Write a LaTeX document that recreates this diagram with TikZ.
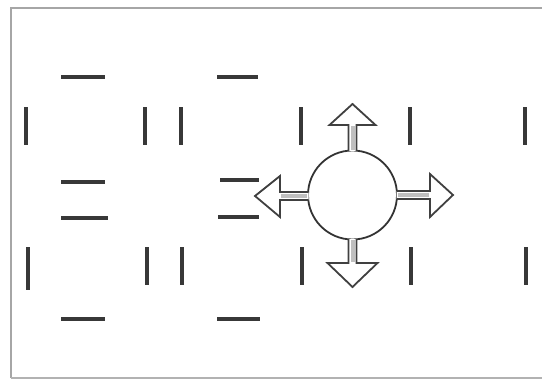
\documentclass[tikz,border=0pt]{standalone}
\begin{document}
\begin{tikzpicture}[x=1pt,y=-1pt]
\tikzset{
  dashmk/.style={line width=3.5pt,draw=black!78},
  barmk/.style={line width=3.5pt,draw=black!78},
  framemk/.style={line width=2pt,draw=black!35},
  blockarrow/.style={line width=1.8pt,draw=black!75,fill=white,line join=miter},
  shaftfill/.style={line width=4pt,draw=black!25},
  ring/.style={circle,draw=black!80,line width=1.8pt,minimum size=89pt,inner sep=0pt}}
\useasboundingbox (0,0) rectangle (542,380);
% frame
\draw[framemk] (10,8) -- (542,8);
\draw[framemk] (11,8) -- (11,378);
\draw[line width=1.2pt,draw=black!30] (11,378) -- (542,378);
% horizontal dashes
\draw[dashmk] (61,77) -- (105,77);
\draw[dashmk] (217,77) -- (258,77);
\draw[dashmk] (61,182) -- (105,182);
\draw[dashmk] (61,218) -- (108,218);
\draw[dashmk] (220,180) -- (259,180);
\draw[dashmk] (218,217) -- (259,217);
\draw[dashmk] (61,319) -- (105,319);
\draw[dashmk] (217,319) -- (260,319);
% vertical bars row 1
\foreach \x in {26,145,181,301,410,525} {\draw[barmk] (\x,107) -- (\x,145);}
% vertical bars row 2
\draw[barmk] (28,247) -- (28,290);
\foreach \x in {147,182,302,411,526} {\draw[barmk] (\x,247) -- (\x,285);}
% circle
\node[ring] (c) at (352.5,195) {};
% arrows
\draw[blockarrow] (348.5,151) -- (348.5,125) -- (329.5,125) -- (352.5,104) -- (375.5,125) -- (356.5,125) -- (356.5,151);
\draw[shaftfill] (c.north) -- (352.5,126);
\draw[blockarrow] (348.5,239) -- (348.5,263) -- (327.5,263) -- (352.5,287) -- (377.5,263) -- (356.5,263) -- (356.5,239);
\draw[shaftfill] (c.south) -- (352.5,262);
\draw[blockarrow] (396.5,191) -- (430,191) -- (430,174) -- (453,195) -- (430,217) -- (430,199) -- (396.5,199);
\draw[shaftfill] (c.east) -- (429,195);
\draw[blockarrow] (308.5,192) -- (280,192) -- (280,176) -- (255,196) -- (280,217) -- (280,200) -- (308.5,200);
\coordinate (wl) at (281,196);
\draw[shaftfill] (c.west |- wl) -- (wl);
\end{tikzpicture}
\end{document}
